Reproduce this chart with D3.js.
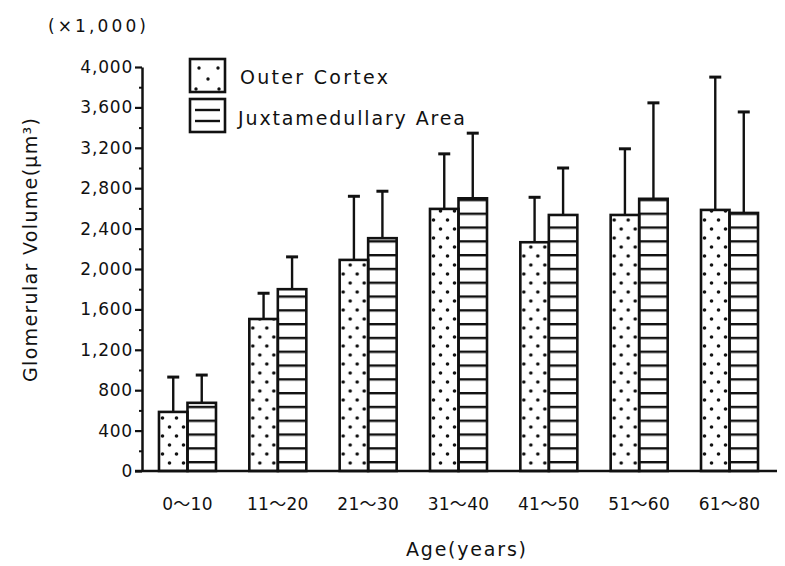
<!DOCTYPE html>
<html>
<head>
<meta charset="utf-8">
<script src="https://cdn.jsdelivr.net/npm/d3@7"></script>
<style>
  html, body { margin: 0; padding: 0; background: #fff; }
  svg { display: block; }
  text { font-family: "DejaVu Sans", "Noto Sans CJK JP", sans-serif; fill: #111; }
</style>
</head>
<body>
<svg id="chart" width="785" height="566"></svg>
<script>
// ---- data (values in units of x1,000 µm³) ----
const categories = ["0～10", "11～20", "21～30", "31～40", "41～50", "51～60", "61～80"];
const seriesNames = ["Outer Cortex", "Juxtamedullary Area"];
const outerMean = [585, 1505, 2090, 2595, 2265, 2535, 2585];
const outerSD   = [345, 255, 630, 545, 445, 655, 1315];
const juxtaMean = [675, 1800, 2305, 2700, 2535, 2695, 2555];
const juxtaSD   = [275, 320, 465, 645, 465, 950, 1000];
const yTicks = [0, 400, 800, 1200, 1600, 2000, 2400, 2800, 3200, 3600, 4000];
const yMinorTicks = [200, 600, 1000, 1400, 1800, 2200, 2600, 3000, 3400, 3800];

const rows = categories.map((c, i) => ({
  cat: c,
  bars: [
    { key: "outer", mean: outerMean[i], sd: outerSD[i] },
    { key: "juxta", mean: juxtaMean[i], sd: juxtaSD[i] }
  ]
}));

const svg = d3.select("#chart");
const ink = "#111";

const y = d3.scaleLinear().domain([0, 4000]).range([471, 67]);
const x = d3.scaleBand().domain(categories).range([142, 775])
  .paddingInner(0.369).paddingOuter(0.188);
const xs = d3.scaleBand().domain(["outer", "juxta"]).range([0, x.bandwidth()]);

// ---- patterns ----
const defs = svg.append("defs");
const dots = defs.append("pattern").attr("id", "dots")
  .attr("patternUnits", "userSpaceOnUse").attr("width", 14).attr("height", 18)
  .attr("x", 0).attr("y", 0);
dots.append("circle").attr("cx", 3.5).attr("cy", 4).attr("r", 1.8).attr("fill", ink);
dots.append("circle").attr("cx", 10.5).attr("cy", 13).attr("r", 1.8).attr("fill", ink);

const stripes = defs.append("pattern").attr("id", "stripes")
  .attr("patternUnits", "userSpaceOnUse").attr("width", 20).attr("height", 13.8)
  .attr("x", 0).attr("y", y(0) - 10);
stripes.append("rect").attr("x", 0).attr("y", 0).attr("width", 20).attr("height", 2.4).attr("fill", ink);

const fillFor = k => k === "outer" ? "url(#dots)" : "url(#stripes)";

// ---- bars ----
const g = svg.append("g");
const grp = g.selectAll("g.grp").data(rows).join("g")
  .attr("class", "grp")
  .attr("transform", d => `translate(${x(d.cat)},0)`);

// error bars
grp.selectAll("line.err").data(d => d.bars).join("line")
  .attr("x1", d => xs(d.key) + xs.bandwidth() / 2)
  .attr("x2", d => xs(d.key) + xs.bandwidth() / 2)
  .attr("y1", d => y(d.mean))
  .attr("y2", d => y(d.mean + d.sd))
  .attr("stroke", ink).attr("stroke-width", 2.4);
grp.selectAll("line.cap").data(d => d.bars).join("line")
  .attr("x1", d => xs(d.key) + xs.bandwidth() / 2 - 6)
  .attr("x2", d => xs(d.key) + xs.bandwidth() / 2 + 6)
  .attr("y1", d => y(d.mean + d.sd))
  .attr("y2", d => y(d.mean + d.sd))
  .attr("stroke", ink).attr("stroke-width", 3);

grp.selectAll("rect.bg").data(d => d.bars).join("rect")
  .attr("x", d => xs(d.key)).attr("width", xs.bandwidth())
  .attr("y", d => y(d.mean)).attr("height", d => y(0) - y(d.mean))
  .attr("fill", "#fff");
grp.selectAll("rect.bar").data(d => d.bars).join("rect")
  .attr("x", d => xs(d.key)).attr("width", xs.bandwidth())
  .attr("y", d => y(d.mean)).attr("height", d => y(0) - y(d.mean))
  .attr("fill", d => fillFor(d.key))
  .attr("stroke", ink).attr("stroke-width", 2.6);

// ---- axes ----
const yMinor = d3.axisLeft(y).tickValues(yMinorTicks).tickSize(3).tickFormat("").tickSizeOuter(0);
svg.append("g").attr("transform", "translate(142,0)").call(yMinor)
  .call(s => s.select(".domain").remove())
  .call(s => s.selectAll("line").attr("stroke", ink).attr("stroke-width", 2));

const yAxis = d3.axisLeft(y).tickValues(yTicks).tickSize(7).tickPadding(2)
  .tickFormat(d3.format(",")).tickSizeOuter(0);
const ya = svg.append("g").attr("transform", "translate(142,0)").call(yAxis);
ya.select(".domain").attr("stroke", ink).attr("stroke-width", 2.5);
ya.selectAll("line").attr("stroke", ink).attr("stroke-width", 2.2);
ya.selectAll("text").attr("font-size", 17).attr("letter-spacing", 0.8)
  .attr("font-family", "DejaVu Sans").attr("fill", ink);

const xAxis = d3.axisBottom(x).tickSize(0).tickPadding(27).tickSizeOuter(0);
const xa = svg.append("g").attr("transform", `translate(0,${y(0)})`).call(xAxis);
xa.select(".domain").remove();
xa.selectAll("text").attr("font-size", 17).attr("letter-spacing", 0.3)
  .attr("font-family", "DejaVu Sans").attr("fill", ink);
svg.append("line").attr("x1", 135).attr("x2", 777)
  .attr("y1", y(0)).attr("y2", y(0)).attr("stroke", ink).attr("stroke-width", 2.6);

// ---- titles ----
svg.append("text").attr("x", 97).attr("y", 32).attr("text-anchor", "middle")
  .attr("font-size", 17).attr("textLength", 98).text("(×1,000)");
svg.append("text")
  .attr("transform", "translate(37,250) rotate(-90)")
  .attr("text-anchor", "middle").attr("font-size", 19).attr("textLength", 264)
  .text("Glomerular Volume(μm³)");
svg.append("text").attr("x", 466).attr("y", 556).attr("text-anchor", "middle")
  .attr("font-size", 19).attr("textLength", 120).text("Age(years)");

// ---- legend ----
const legend = svg.append("g");
const lgItems = [
  { key: "outer", name: seriesNames[0], y: 59, ty: 84, tx: 240, tl: 148 },
  { key: "juxta", name: seriesNames[1], y: 99, ty: 125, tx: 238, tl: 227 }
];
legend.selectAll("rect").data(lgItems).join("rect")
  .attr("x", 190).attr("y", d => d.y).attr("width", 35).attr("height", 33)
  .attr("fill", "#fff").attr("stroke", ink).attr("stroke-width", 2.6);
const dotPts = [[199, 68], [218, 68], [208, 79], [196, 89], [219, 89]];
legend.selectAll("circle").data(dotPts).join("circle")
  .attr("cx", d => d[0]).attr("cy", d => d[1]).attr("r", 1.7).attr("fill", ink);
legend.selectAll("line").data([110, 121]).join("line")
  .attr("x1", 195).attr("x2", 220).attr("y1", d => d).attr("y2", d => d)
  .attr("stroke", ink).attr("stroke-width", 2.4);
legend.selectAll("text").data(lgItems).join("text")
  .attr("x", d => d.tx).attr("y", d => d.ty)
  .attr("font-size", 19).attr("textLength", d => d.tl)
  .text(d => d.name);
</script>
</body>
</html>
